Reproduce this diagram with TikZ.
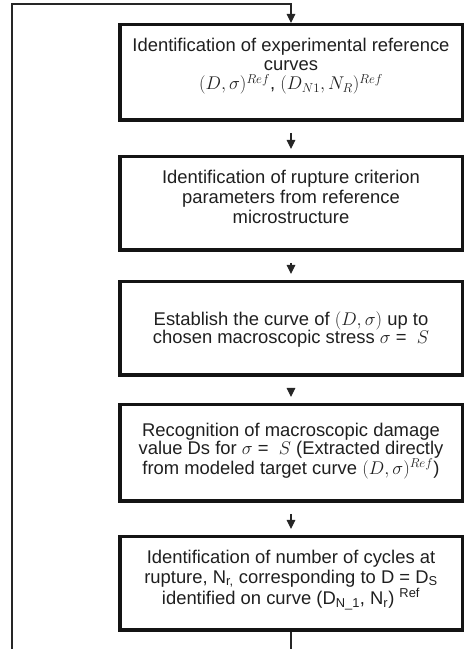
\RequirePackage{fix-cm}
\documentclass[tikz,border=0pt]{standalone}
\usepackage{fontspec}
\setmainfont{Liberation Sans}
\usetikzlibrary{arrows.meta}
\begin{document}
\begin{tikzpicture}[x=1pt,y=1pt,
  stepbox/.style={draw=black!92,line width=3.5pt,minimum width=342.5pt,inner sep=0pt},
  txt/.style={align=center,text=black!88,inner sep=0pt,font=\fontsize{18.4}{19.5}\selectfont},
  conn/.style={draw=black!85,line width=1.2pt},
  tip/.style={-{Triangle[width=8.5pt,length=9pt]}},
  gap/.style={shorten <=11pt,shorten >=6pt}]
\useasboundingbox (0,0) rectangle (469,649);
\clip (0,0) rectangle (469,649);
\node[stepbox,minimum height=95.5pt] (b1) at (291,576.5) {};
\node[stepbox,minimum height=93.5pt] (b2) at (291,445.5) {};
\node[stepbox,minimum height=93.5pt] (b3) at (291,320.5) {};
\node[stepbox,minimum height=96.5pt] (b4) at (291,196) {};
\node[stepbox,minimum height=93.5pt] (b5) at (291,65.5) {};
\node[txt,font=\fontsize{18.4}{19}\selectfont] (t1) at ([yshift=6pt]b1.center)
  {Identification of experimental reference\\curves\\$(D,\sigma)^{Ref}$, $(D_{N1},N_R)^{Ref}$};
\node[txt,font=\fontsize{18.4}{20}\selectfont] (t2) at ([yshift=6.5pt]b2.center)
  {Identification of rupture criterion\\parameters from reference\\microstructure};
\node[txt,font=\fontsize{18.4}{18}\selectfont] (t3) at ([yshift=-1pt]b3.center)
  {Establish the curve of $(D,\sigma)$ up to\\chosen macroscopic stress $\sigma$ = \ $S$};
\node[txt,font=\fontsize{18.4}{16.8}\selectfont] (t4) at ([yshift=2pt]b4.center)
  {Recognition of macroscopic damage\\value Ds for $\sigma$ = \ $S$ (Extracted directly\\from modeled target curve $(D,\sigma)^{Ref}$)};
\node[txt,font=\fontsize{18.4}{19.5}\selectfont] (t5) at ([yshift=3.5pt]b5.center)
  {Identification of number of cycles at\\rupture, N\textsubscript{r,} corresponding to D = D\textsubscript{S}\\identified on curve (D\textsubscript{N\_1}, N\textsubscript{r}) \textsuperscript{Ref}};
\draw[conn,tip,gap] (b1.south) -- (b2.north);
\draw[conn,tip,gap] (b2.south) -- (b3.north);
\draw[conn,tip,gap] (b3.south) -- (b4.north);
\draw[conn,tip,gap] (b4.south) -- (b5.north);
\coordinate (lowc) at (12,-20);
\coordinate (topc) at (12,645);
\draw[conn,tip] (b5.south) -- (b5.south |- lowc) -- (lowc) -- (topc) -| (b1.north);
\end{tikzpicture}
\end{document}
